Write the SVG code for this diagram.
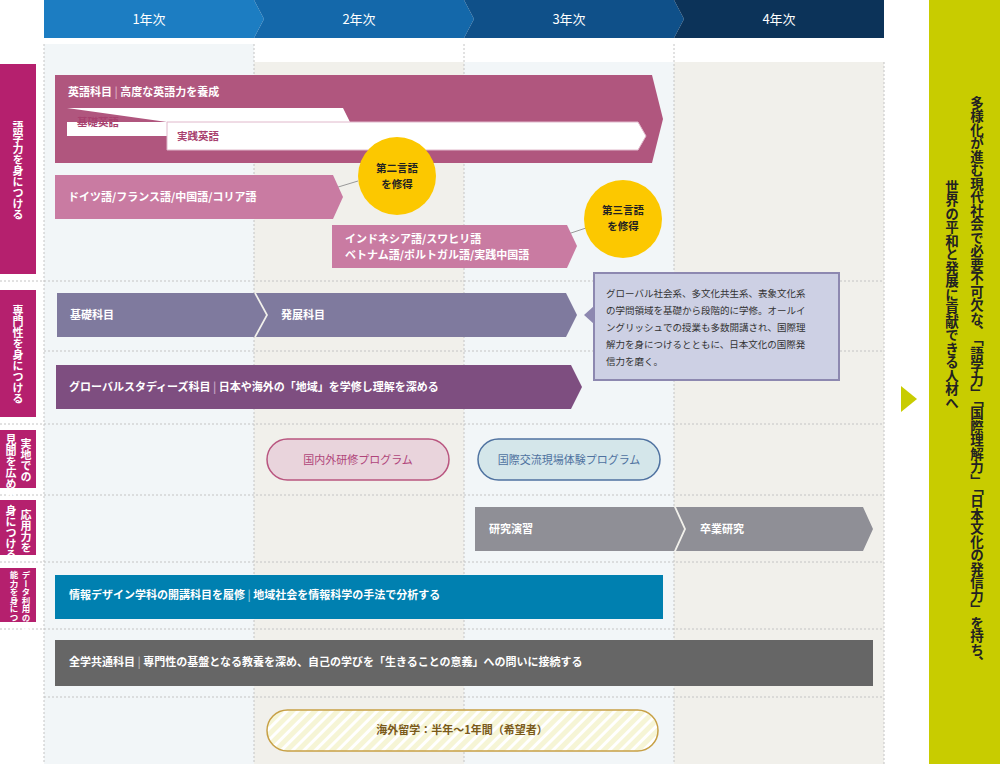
<svg xmlns="http://www.w3.org/2000/svg" width="1000" height="764" viewBox="0 0 1000 764">
<style>
text{font-family:"Noto Sans CJK JP","Noto Sans",sans-serif;}
.w{fill:#fff;font-size:11px;font-weight:bold}
.hd{fill:#fff;font-size:13px}
.vl{fill:#fff;font-size:11px;writing-mode:vertical-rl;font-weight:bold}
.vs{fill:#fff;font-size:8.5px;writing-mode:vertical-rl;font-weight:bold}
.grid{stroke:#c4c4c4;stroke-width:1;stroke-dasharray:2 2;fill:none}
.lab{fill:#b5206e}
</style>
<defs>
<pattern id="hatch" width="8" height="8" patternUnits="userSpaceOnUse" patternTransform="rotate(45)">
<rect width="8" height="8" fill="#f6f5d6"/><rect width="3" height="8" fill="#fff"/>
</pattern>
</defs>
<rect width="1000" height="764" fill="#fff"/>
<g id="columns">
<rect x="44" y="44" width="210" height="720" fill="#f2f6f8"/>
<rect x="254" y="62" width="210" height="702" fill="#f1f0eb"/>
<rect x="464" y="62" width="210" height="702" fill="#f2f6f8"/>
<rect x="674" y="62" width="210" height="702" fill="#f1f0eb"/>
<path class="grid" d="M44,44V764M254,44V764M464,44V764M674,44V764M884,62V764"/>
<path class="grid" d="M0,281H884M44,351H884M0,424H884M0,495H884M0,562H884M0,629H884M44,697H884"/>
</g>
<g id="header">
<polygon points="44,0 254,0 264,19 254,38 44,38" fill="#1c7dc2"/>
<polygon points="254,0 464,0 474,19 464,38 254,38 264,19" fill="#1468aa"/>
<polygon points="464,0 674,0 684,19 674,38 464,38 474,19" fill="#0f5089"/>
<polygon points="674,0 884,0 884,38 674,38 684,19" fill="#0c3359"/>
<text class="hd" x="149" y="24" text-anchor="middle">1年次</text>
<text class="hd" x="359" y="24" text-anchor="middle">2年次</text>
<text class="hd" x="569" y="24" text-anchor="middle">3年次</text>
<text class="hd" x="779" y="24" text-anchor="middle">4年次</text>
</g>
<g id="labels">
<rect class="lab" x="0" y="64" width="36" height="210"/>
<text class="vl" x="18" y="121">語学力を身につける</text>
<rect class="lab" x="0" y="290" width="36" height="127"/>
<text class="vl" x="18" y="305">専門性を身につける</text>
<rect class="lab" x="0" y="430" width="36" height="58"/>
<text class="vl" x="26" y="438">実地での</text>
<text class="vl" x="11" y="434">見聞を広める</text>
<rect class="lab" x="0" y="500" width="36" height="55"/>
<text class="vl" x="26" y="509">応用力を</text>
<text class="vl" x="11" y="505">身につける</text>
<rect class="lab" x="0" y="568" width="36" height="54"/>
<text class="vs" x="26" y="571">データ利用の基礎</text>
<text class="vs" x="14" y="571">能力を身につける</text>
</g>
<g id="connectors">
<line x1="325" y1="191" x2="358" y2="181" stroke="#999" stroke-width="1"/>
<line x1="553" y1="239" x2="586" y2="228" stroke="#999" stroke-width="1"/>
</g>
<g id="english">
<polygon points="55,75 652,75 663,119 652,163 55,163" fill="#b0567e"/>
<text class="w" x="68" y="96">英語科目 <tspan fill="#d9a8be">|</tspan> 高度な英語力を養成</text>
<polygon points="67,108 343,108 350,122 67,122 67,136 167,136 167,122" fill="#fff"/>
<text x="77" y="126" font-size="10.5" fill="#a8416f" font-weight="bold">基礎英語</text>
<polygon points="167,122 638,122 646,136 638,150 167,150" fill="#fff" stroke="#e0b8cb"/>
<text x="177" y="140" font-size="10.5" fill="#a8416f" font-weight="bold">実践英語</text>
</g>
<g id="second-lang">
<polygon points="55,175 333,175 343,197 333,219 55,219" fill="#c97ba2"/>
<text class="w" x="68" y="201">ドイツ語/フランス語/中国語/コリア語</text>
</g>
<g id="third-lang">
<polygon points="332,225 567,225 577,246 567,268 332,268" fill="#c97ba2"/>
<text class="w" x="345" y="243">インドネシア語/スワヒリ語</text>
<text class="w" x="345" y="259">ベトナム語/ポルトガル語/実践中国語</text>
</g>
<g id="circle2">
<circle cx="397" cy="176" r="39" fill="#fcc800"/>
<text x="397" y="172" font-size="10.5" font-weight="bold" text-anchor="middle" fill="#222">第二言語</text>
<text x="397" y="188" font-size="10.5" font-weight="bold" text-anchor="middle" fill="#222">を修得</text>
</g>
<g id="circle3">
<circle cx="623" cy="219" r="39" fill="#fcc800"/>
<text x="623" y="214" font-size="10.5" font-weight="bold" text-anchor="middle" fill="#222">第三言語</text>
<text x="623" y="230" font-size="10.5" font-weight="bold" text-anchor="middle" fill="#222">を修得</text>
</g>
<g id="senmon">
<polygon points="57,293 254,293 266,315 254,337 57,337" fill="#7f7a9e"/>
<polygon points="256,293 566,293 577,315 566,337 256,337 268,315" fill="#7f7a9e"/>
<text class="w" x="70" y="319">基礎科目</text>
<text class="w" x="281" y="319">発展科目</text>
</g>
<g id="note">
<polygon points="594,306 584,315 594,324" fill="#8d88b0"/>
<rect x="594" y="273" width="245" height="107" fill="#cdd0e4" stroke="#8d88b0" stroke-width="2"/>
<g font-size="9.5" fill="#333">
<text x="606" y="297">グローバル社会系、多文化共生系、表象文化系</text>
<text x="606" y="314">の学問領域を基礎から段階的に学修。オールイ</text>
<text x="606" y="331">ングリッシュでの授業も多数開講され、国際理</text>
<text x="606" y="348">解力を身につけるとともに、日本文化の国際発</text>
<text x="606" y="365">信力を磨く。</text>
</g>
</g>
<g id="gs">
<polygon points="56,365 571,365 582,387 571,409 56,409" fill="#7e4e80"/>
<text class="w" x="69" y="391">グローバルスタディーズ科目 <tspan fill="#c3a3c4">|</tspan> 日本や海外の「地域」を学修し理解を深める</text>
</g>
<g id="kenshu">
<rect x="267" y="439" width="182" height="41" rx="20.5" fill="#e9d4dc" stroke="#b9557f" stroke-width="1.5"/>
<text x="358" y="464" font-size="11" text-anchor="middle" fill="#b0457a">国内外研修プログラム</text>
</g>
<g id="kouryu">
<rect x="478" y="439" width="182" height="41" rx="20.5" fill="#d4e6ea" stroke="#4f72a0" stroke-width="1.5"/>
<text x="569" y="464" font-size="11" text-anchor="middle" fill="#4f72a0">国際交流現場体験プログラム</text>
</g>
<g id="kenkyu">
<polygon points="475,507 674,507 684,529 674,551 475,551" fill="#8f8f96"/>
<polygon points="676,507 863,507 873,529 863,551 676,551 686,529" fill="#8f8f96"/>
<text class="w" x="489" y="533">研究演習</text>
<text class="w" x="700" y="533">卒業研究</text>
</g>
<g id="joho">
<rect x="55" y="575" width="608" height="44" fill="#0080b0"/>
<text class="w" x="69" y="599">情報デザイン学科の開講科目を履修 <tspan fill="#8cc4da">|</tspan> 地域社会を情報科学の手法で分析する</text>
</g>
<g id="zengaku">
<rect x="55" y="640" width="818" height="46" fill="#666"/>
<text class="w" x="69" y="666">全学共通科目 <tspan fill="#aaa">|</tspan> 専門性の基盤となる教養を深め、自己の学びを「生きることの意義」への問いに接続する</text>
</g>
<g id="ryugaku">
<rect x="267" y="710" width="391" height="41" rx="20.5" fill="url(#hatch)" stroke="#c7a046" stroke-width="1.5"/>
<text x="462" y="734" font-size="11" text-anchor="middle" fill="#7a5a1a" font-weight="bold">海外留学：半年〜1年間（希望者）</text>
</g>
<g id="result">
<polygon points="901,386 917,399 901,412" fill="#c8cc00"/>
<rect x="929" y="0" width="71" height="764" fill="#c8cc00"/>
<text x="977" y="96" font-size="13.5" font-weight="bold" fill="#222" style="writing-mode:vertical-rl">多様化が進む現代社会で必要不可欠な、「語学力」「国際理解力」「日本文化の発信力」を持ち、</text>
<text x="952" y="180" font-size="13.5" font-weight="bold" fill="#222" style="writing-mode:vertical-rl">世界の平和と発展に貢献できる人材へ</text>
</g>
</svg>
